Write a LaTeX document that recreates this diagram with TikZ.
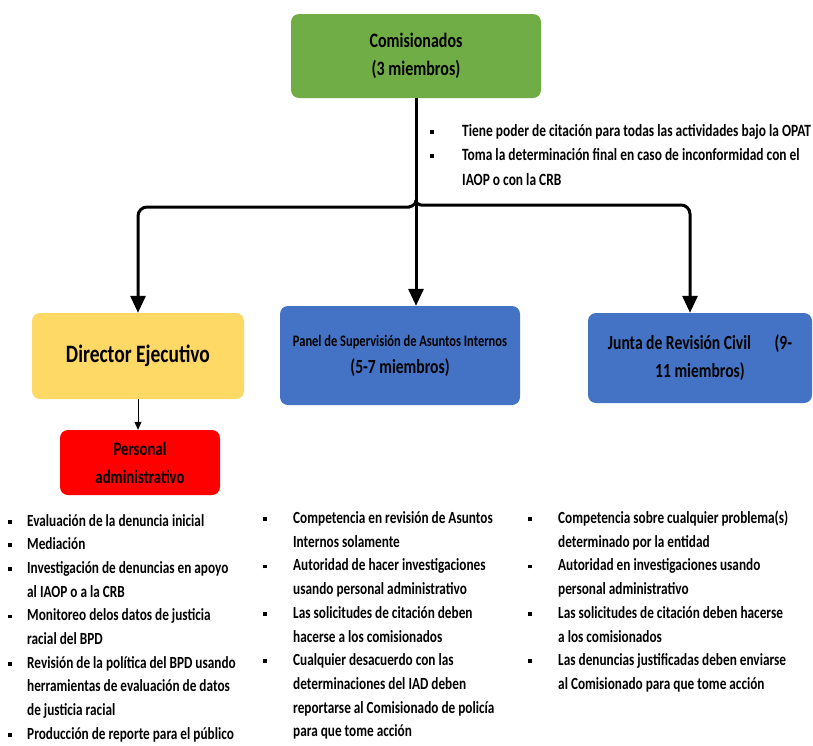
\documentclass[tikz,border=0pt]{standalone}
\usepackage{fontspec}
\setmainfont[FakeStretch=0.78,UprightFont=* Bold]{Carlito}
\usetikzlibrary{arrows.meta}
\definecolor{cgreen}{HTML}{70AD47}
\definecolor{cyellow}{HTML}{FFD966}
\definecolor{cblue}{HTML}{4472C4}
\definecolor{cred}{HTML}{FF0000}
\newcommand\bul{\raisebox{2.5pt}{\rule{3.8pt}{3.8pt}}}
\begin{document}
\begin{tikzpicture}[x=1pt,y=-1pt,
  box/.style={draw=none, rounded corners=8pt, inner sep=0pt, align=center, text=black},
  conn/.style={line width=3pt, -{Triangle[width=15pt,length=17pt]}},
  thinconn/.style={line width=1pt, -{Triangle[width=7pt,length=8pt]}},
  blist/.style={anchor=base west, inner sep=0pt, text=black}
]
\useasboundingbox (0,0) rectangle (813,745);

\node[box, fill=cgreen, minimum width=250pt, minimum height=84pt, font=\fontsize{20.5}{28}\selectfont] (com) at (416,56) {Comisionados\\(3 miembros)};
\node[box, fill=cyellow, minimum width=212pt, minimum height=86pt, font=\fontsize{25}{30}\selectfont] (dir) at (138,356) {Director Ejecutivo};
\node[box, fill=cblue, minimum width=240pt, minimum height=99pt, font=\fontsize{20}{27}\selectfont] (pan) at (400,355.5) {{\fontsize{16}{27}\selectfont Panel de Supervisión de Asuntos Internos}\\(5-7 miembros)};
\node[box, fill=cblue, minimum width=224pt, minimum height=90pt, font=\fontsize{20}{28}\selectfont] (jun) at (700,358) {Junta de Revisión Civil\quad\ (9-\\11 miembros)};
\node[box, fill=cred, minimum width=160pt, minimum height=65pt, font=\fontsize{19}{28}\selectfont] (per) at (140,462.5) {Personal\\administrativo};

\coordinate (j) at (416,200);
\draw[line width=3pt] (com.south) -- (j);
\draw[conn] (j) -- (j |- pan.north);
\draw[conn, rounded corners=9pt] (j) to[out=-90,in=0] ++(-16,7) -| (dir.north);
\draw[conn, rounded corners=9pt] (j) to[out=-90,in=180] ++(16,5) -| ([xshift=-10pt]jun.north);
\draw[thinconn] (dir.south) -- (dir.south |- per.north);

\node[blist, font=\fontsize{17.2}{24.5}\selectfont] (tb) at (430,136) {\begin{tabular}[t]{@{}p{32pt}@{}l@{}}
\bul & Tiene poder de citación para todas las actividades bajo la OPAT\\
\bul & Toma la determinación final en caso de inconformidad con el\\
 & IAOP o con la CRB
\end{tabular}};

\node[blist, font=\fontsize{17}{23.7}\selectfont] (l1) at (8,526) {\begin{tabular}[t]{@{}p{19pt}@{}l@{}}
\bul & Evaluación de la denuncia inicial\\
\bul & Mediación\\
\bul & Investigación de denuncias en apoyo\\
 & al IAOP o a la CRB\\
\bul & Monitoreo delos datos de justicia\\
 & racial del BPD\\
\bul & Revisión de la política del BPD usando\\
 & herramientas de evaluación de datos\\
 & de justicia racial\\
\bul & Producción de reporte para el público
\end{tabular}};

\node[blist, font=\fontsize{17}{23.7}\selectfont] (l2) at (263,523.5) {\begin{tabular}[t]{@{}p{30pt}@{}l@{}}
\bul & Competencia en revisión de Asuntos\\
 & Internos solamente\\
\bul & Autoridad de hacer investigaciones\\
 & usando personal administrativo\\
\bul & Las solicitudes de citación deben\\
 & hacerse a los comisionados\\
\bul & Cualquier desacuerdo con las\\
 & determinaciones del IAD deben\\
 & reportarse al Comisionado de policía\\
 & para que tome acción
\end{tabular}};

\node[blist, font=\fontsize{17}{23.7}\selectfont] (l3) at (528,523.5) {\begin{tabular}[t]{@{}p{30pt}@{}l@{}}
\bul & Competencia sobre cualquier problema(s)\\
 & determinado por la entidad\\
\bul & Autoridad en investigaciones usando\\
 & personal administrativo\\
\bul & Las solicitudes de citación deben hacerse\\
 & a los comisionados\\
\bul & Las denuncias justificadas deben enviarse\\
 & al Comisionado para que tome acción
\end{tabular}};
\end{tikzpicture}
\end{document}
